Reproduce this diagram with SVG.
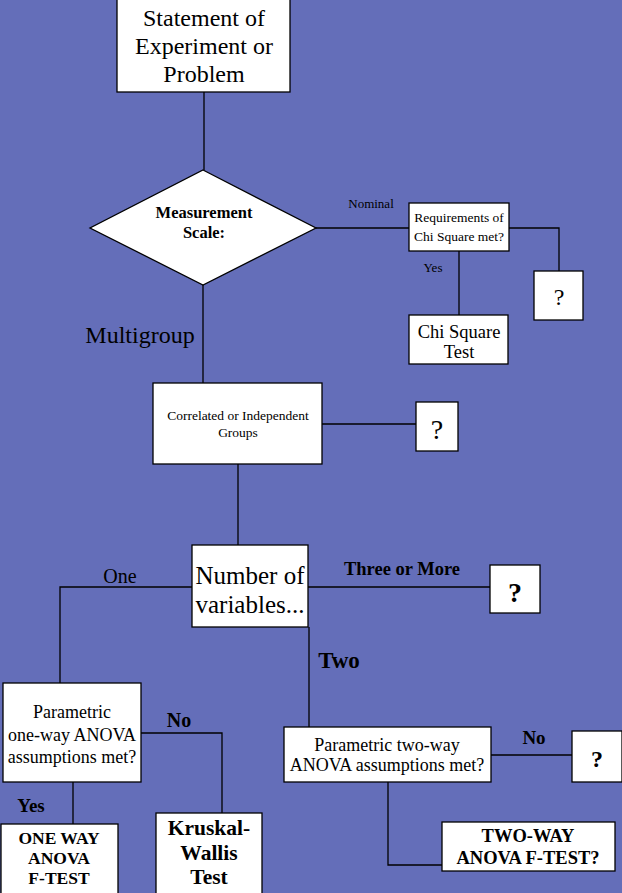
<svg xmlns="http://www.w3.org/2000/svg" width="622" height="893" viewBox="0 0 622 893">
<style>
.bx{fill:#fff;stroke:#000;stroke-width:1.3}
.ln{fill:none;stroke:#000;stroke-width:1.3}
text{font-family:"Liberation Serif","Times New Roman",serif;fill:#000;text-anchor:middle}
.b{font-weight:bold}
</style>
<rect width="622" height="893" fill="#646EB9"/>
<g id="connectors">
<path class="ln" d="M204 92V170"/>
<path class="ln" d="M203 285V383"/>
<path class="ln" d="M316 228H409"/>
<path class="ln" d="M509 228H559V271"/>
<path class="ln" d="M459 251V315"/>
<path class="ln" d="M322 424H416"/>
<path class="ln" d="M238 464V545"/>
<path class="ln" d="M192 587H60V683"/>
<path class="ln" d="M308 587H490"/>
<path class="ln" d="M309 627V727"/>
<path class="ln" d="M141 733H222V813"/>
<path class="ln" d="M73 782V824"/>
<path class="ln" d="M491 755H572"/>
<path class="ln" d="M388 782V865H442"/>
</g>
<g id="labels">
<text x="371" y="208" font-size="13">Nominal</text>
<text x="433" y="272" font-size="13">Yes</text>
<text x="140" y="343" font-size="24">Multigroup</text>
<text x="120" y="583" font-size="20">One</text>
<text x="402" y="575" font-size="18.5" class="b">Three or More</text>
<text x="339" y="668" font-size="23" class="b">Two</text>
<text x="179" y="727" font-size="20" class="b">No</text>
<text x="31" y="812" font-size="19" class="b">Yes</text>
<text x="534" y="744" font-size="19" class="b">No</text>
</g>
<g id="n-statement">
<rect class="bx" x="117" y="-1" width="173" height="93"/>
<text x="204" y="26" font-size="24">Statement of</text>
<text x="204" y="54" font-size="24">Experiment or</text>
<text x="204" y="82" font-size="24">Problem</text>
</g>
<g id="n-measurement">
<polygon class="bx" points="203,170 316,228 203,285 90,228"/>
<text x="204" y="218" font-size="16.5" class="b">Measurement</text>
<text x="204" y="238" font-size="16.5" class="b">Scale:</text>
</g>
<g id="n-requirements">
<rect class="bx" x="409" y="203" width="100" height="48"/>
<text x="459" y="222" font-size="13.5">Requirements of</text>
<text x="459" y="241" font-size="13.5">Chi Square met?</text>
</g>
<g id="n-q1">
<rect class="bx" x="534" y="271" width="49" height="49"/>
<text x="559" y="305" font-size="24">?</text>
</g>
<g id="n-chisquare">
<rect class="bx" x="409" y="315" width="99" height="49"/>
<text x="459" y="338" font-size="18.5">Chi Square</text>
<text x="459" y="358" font-size="18.5">Test</text>
</g>
<g id="n-correlated">
<rect class="bx" x="153" y="383" width="169" height="81"/>
<text x="238" y="420" font-size="13.5">Correlated or Independent</text>
<text x="238" y="437" font-size="13.5">Groups</text>
</g>
<g id="n-q2">
<rect class="bx" x="416" y="402" width="42" height="49"/>
<text x="437" y="439" font-size="28">?</text>
</g>
<g id="n-number">
<rect class="bx" x="192" y="545" width="116" height="82"/>
<text x="250" y="584" font-size="25">Number of</text>
<text x="250" y="613" font-size="25">variables...</text>
</g>
<g id="n-q3">
<rect class="bx" x="490" y="565" width="50" height="48"/>
<text x="515" y="602" font-size="28" class="b">?</text>
</g>
<g id="n-oneway-q">
<rect class="bx" x="3" y="683" width="138" height="99"/>
<text x="72" y="718" font-size="18">Parametric</text>
<text x="72" y="741" font-size="18">one-way ANOVA</text>
<text x="72" y="763" font-size="18">assumptions met?</text>
</g>
<g id="n-oneway">
<rect class="bx" x="1" y="824" width="117" height="70"/>
<text x="59" y="844" font-size="17.5" class="b">ONE WAY</text>
<text x="59" y="864" font-size="17.5" class="b">ANOVA</text>
<text x="59" y="884" font-size="17.5" class="b">F-TEST</text>
</g>
<g id="n-kruskal">
<rect class="bx" x="156" y="813" width="106" height="81"/>
<text x="209" y="835" font-size="21.5" class="b">Kruskal-</text>
<text x="209" y="860" font-size="21.5" class="b">Wallis</text>
<text x="209" y="884" font-size="21.5" class="b">Test</text>
</g>
<g id="n-twoway-q">
<rect class="bx" x="284" y="727" width="207" height="55"/>
<text x="387" y="751" font-size="18">Parametric two-way</text>
<text x="387" y="771" font-size="18">ANOVA assumptions met?</text>
</g>
<g id="n-q4">
<rect class="bx" x="572" y="731" width="50" height="51"/>
<text x="597" y="767" font-size="24" class="b">?</text>
</g>
<g id="n-twoway">
<rect class="bx" x="442" y="822" width="173" height="49"/>
<text x="528" y="842" font-size="18.5" class="b">TWO-WAY</text>
<text x="528" y="864" font-size="18.5" class="b">ANOVA F-TEST?</text>
</g>
</svg>
